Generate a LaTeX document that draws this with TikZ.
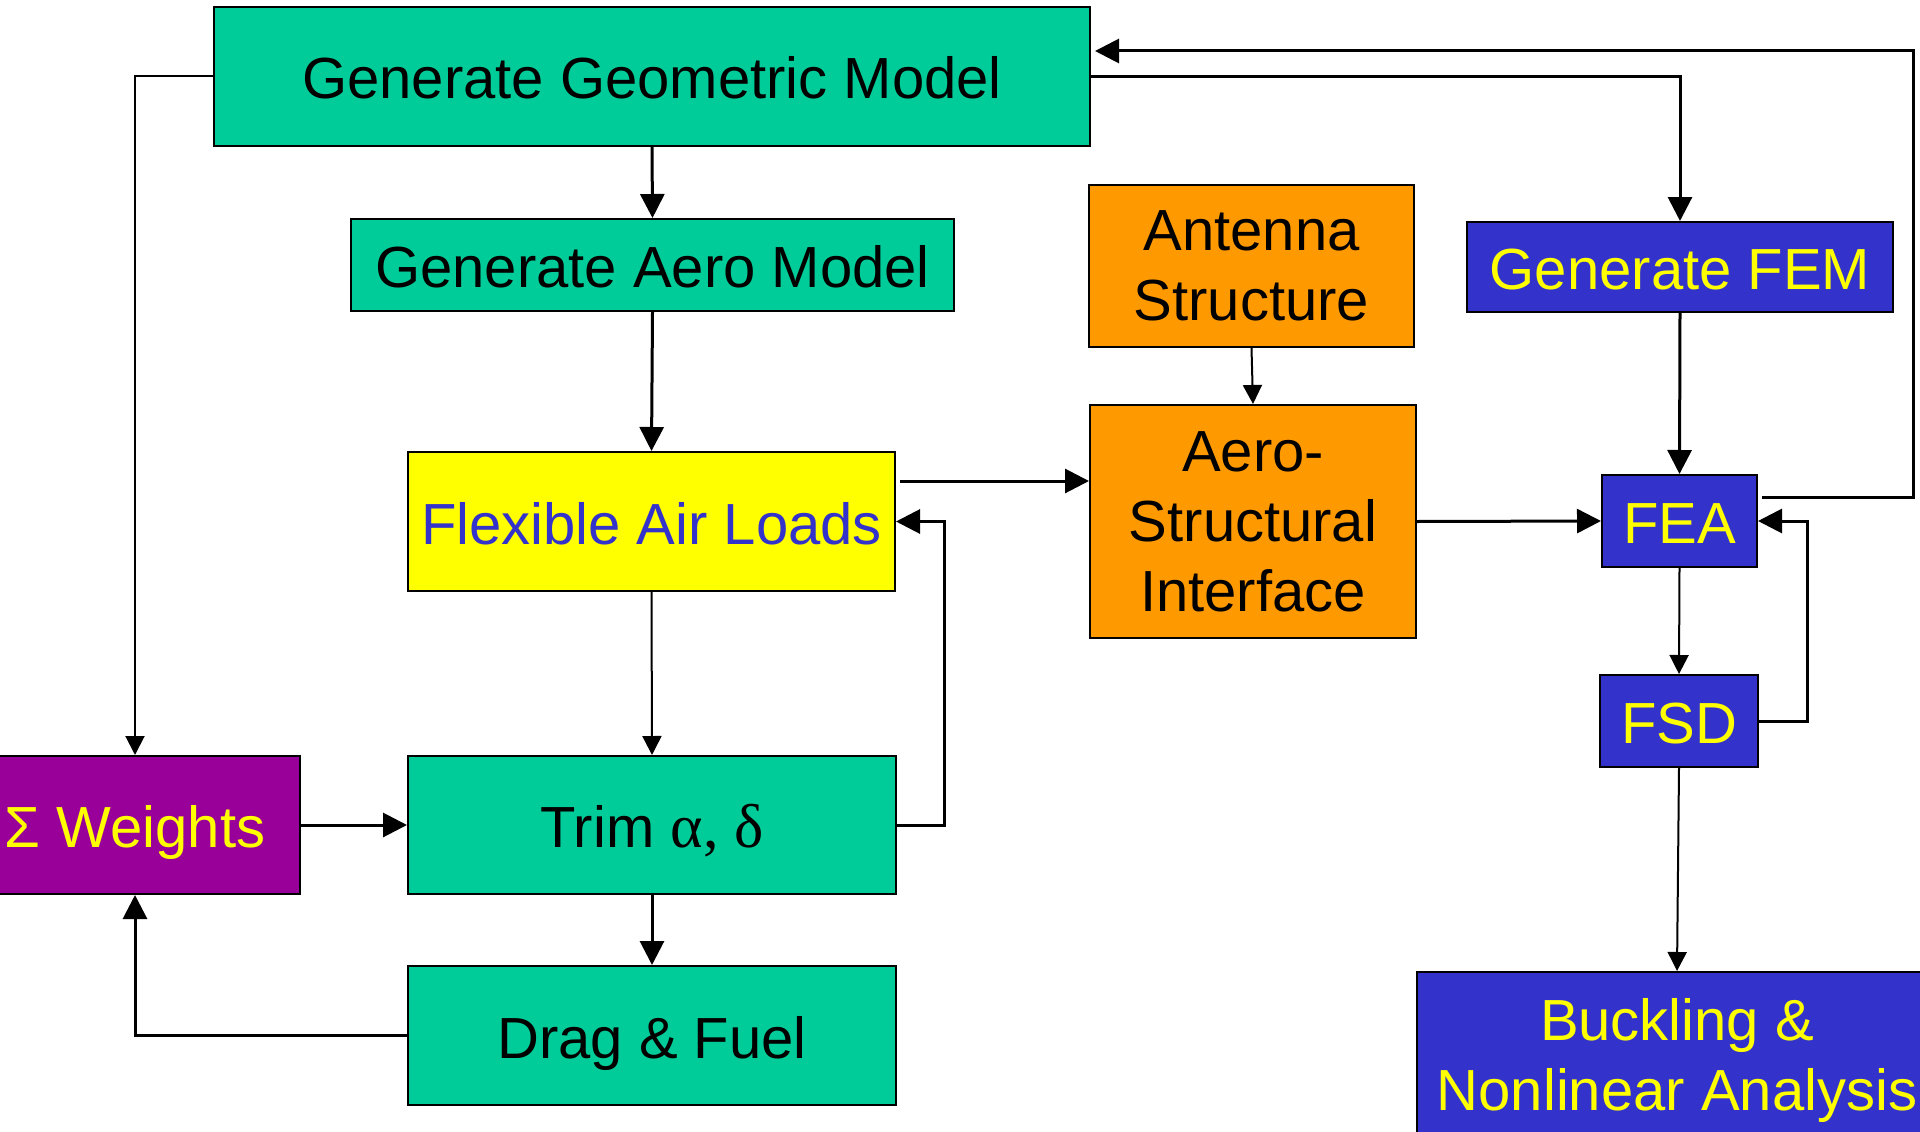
\documentclass[tikz,border=0pt]{standalone}
\usepackage{fontspec}
\setmainfont{Liberation Sans}
\newfontfamily\serifgreek{Liberation Serif}
\usetikzlibrary{arrows.meta}
\definecolor{cgreen}{RGB}{0,204,153}
\definecolor{cyellow}{RGB}{255,255,0}
\definecolor{corange}{RGB}{255,153,0}
\definecolor{cblue}{RGB}{51,51,204}
\definecolor{cpurple}{RGB}{153,0,153}
\newcommand\boxfont{\fontsize{58}{70}\selectfont}
\tikzset{
  blk/.style={draw=black, line width=2pt, inner sep=0pt, align=center, font=\boxfont},
  oneline/.style={text height=45pt, text depth=0pt},
  gbox/.style={blk, fill=cgreen, text=black},
  obox/.style={blk, fill=corange, text=black},
  bbox/.style={blk, fill=cblue, text=cyellow},
  ybox/.style={blk, fill=cyellow, text=cblue},
  pbox/.style={blk, fill=cpurple, text=cyellow},
  thick arrow/.style={draw=black, line width=3pt, -{Triangle[length=24pt,width=24pt]}},
  thin arrow/.style={draw=black, line width=2pt, -{Triangle[length=19pt,width=19pt]}},
}
\begin{document}
\begin{tikzpicture}[x=1pt,y=-1pt]
\clip (0,0) rectangle (1920,1132);
\useasboundingbox (0,0) rectangle (1920,1132);
\fill[white] (0,0) rectangle (1920,1132);

\node[gbox, oneline, minimum width=876pt, minimum height=139pt] (geo) at (652,76.5) {Generate Geometric Model};
\node[gbox, oneline, minimum width=603pt, minimum height=92pt] (aero) at (652.5,265) {Generate Aero Model};
\node[obox, minimum width=325pt, minimum height=162pt] (ant) at (1251.5,266) {Antenna\\Structure};
\node[bbox, oneline, minimum width=426pt, minimum height=90pt] (fem) at (1680,267) {Generate FEM};
\node[ybox, oneline, minimum width=487pt, minimum height=139pt] (flex) at (651.5,521.5) {Flexible Air Loads};
\node[obox, minimum width=326pt, minimum height=233pt] (asi) at (1253,521.5) {Aero-\\Structural\\Interface};
\node[bbox, oneline, minimum width=155pt, minimum height=92pt] (fea) at (1679.5,521) {FEA};
\node[bbox, oneline, minimum width=158pt, minimum height=92pt] (fsd) at (1679,721) {FSD};
\node[pbox, oneline, minimum width=330pt, minimum height=138pt] (wts) at (135,825) {Σ Weights};
\node[gbox, oneline, minimum width=488pt, minimum height=138pt] (trim) at (652,825) {Trim {\serifgreek\fontsize{62}{70}\selectfont α, δ}};
\node[gbox, oneline, minimum width=488pt, minimum height=139pt] (drag) at (652,1035.5) {Drag \& Fuel};
\node[bbox, minimum width=520pt, minimum height=176pt] (buck) at (1677,1060) {Buckling \&\\Nonlinear Analysis};

% left column
\draw[thin arrow] (geo.west) -| (wts.north);
\draw[thick arrow] (geo.south) -- (aero.north);
\draw[thick arrow] (aero.south) -- (flex.north);
\draw[thin arrow] (flex.south) -- (trim.north);
\draw[thick arrow] (trim.south) -- (drag.north);
\draw[thick arrow] (drag.west) -| (wts.south);
\draw[thick arrow] (wts.east) -- (trim.west);
\draw[thick arrow] (trim.east) -- ++(47,0) |- (flex.east);
\draw[thick arrow] ([yshift=40.5pt,xshift=4pt]flex.east) -- ([yshift=40.5pt]flex.east -| asi.west);

% middle
\draw[thin arrow] (ant.south) -- (asi.north);
\draw[thick arrow] (asi.east) -- (fea.west);

% right column
\draw[thick arrow] (geo.east) -| (fem.north);
\draw[thick arrow] (fem.south) -- (fea.north);
\draw[thin arrow] (fea.south) -- (fsd.north);
\draw[thick arrow] (fsd.east) -- ++(48,0) |- (fea.east);
\draw[thick arrow] ([yshift=24pt,xshift=4pt]fea.east) -- (1913,497) |- ([yshift=25.5pt,xshift=4pt]geo.east);
\draw[thin arrow] (fsd.south) -- (buck.north);
\end{tikzpicture}
\end{document}
